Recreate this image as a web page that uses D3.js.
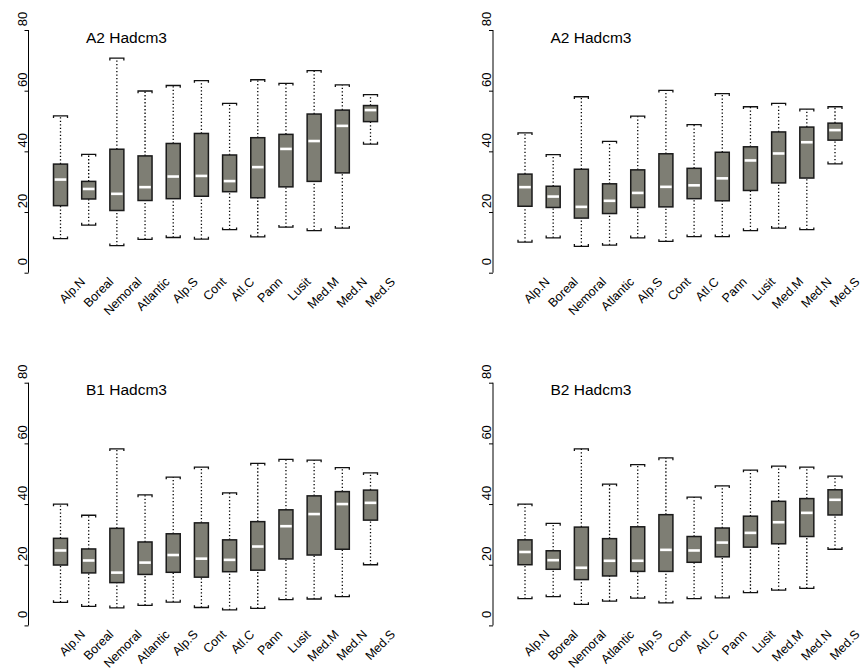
<!DOCTYPE html>
<html>
<head>
<meta charset="utf-8">
<script src="https://cdn.jsdelivr.net/npm/d3@7"></script>
<style>
  html, body { margin: 0; padding: 0; background: #fff; }
  svg { display: block; }
  text { font-family: "Liberation Sans", Arial, sans-serif; fill: #000; }
</style>
</head>
<body>
<svg id="chart" width="864" height="671"></svg>
<script>
// ---- data ----
const categories = ["Alp.N","Boreal","Nemoral","Atlantic","Alp.S","Cont","Atl.C","Pann","Lusit","Med.M","Med.N","Med.S"];
const yTicks = [0, 20, 40, 60, 80];
const panelTitles = ["A2 Hadcm3", "A2 Hadcm3", "B1 Hadcm3", "B2 Hadcm3"];

// each row: [lower whisker, Q1, median, Q3, upper whisker]
const statsA2left = [
  [11.2, 22.1, 30.7, 35.8, 51.7],
  [15.7, 24.3, 27.6, 30.1, 39.0],
  [ 8.9, 20.5, 26.0, 40.7, 70.7],
  [11.0, 23.8, 28.2, 38.5, 59.9],
  [11.6, 24.4, 31.7, 42.6, 61.7],
  [11.1, 25.2, 31.9, 45.9, 63.3],
  [14.2, 26.7, 30.2, 38.8, 55.8],
  [11.8, 24.7, 34.8, 44.5, 63.6],
  [15.0, 28.3, 40.8, 45.6, 62.4],
  [13.9, 30.1, 43.4, 52.3, 66.6],
  [14.7, 32.9, 48.4, 53.6, 61.9],
  [42.4, 49.8, 53.6, 55.1, 58.7]
];
const statsA2right = [
  [10.1, 21.9, 28.2, 32.5, 46.1],
  [11.5, 21.5, 25.1, 28.5, 38.9],
  [ 8.7, 18.0, 21.7, 34.1, 58.0],
  [ 9.1, 19.5, 23.7, 29.3, 43.3],
  [11.5, 21.5, 26.3, 33.9, 51.6],
  [10.3, 21.7, 28.3, 39.2, 60.1],
  [11.9, 24.4, 28.8, 34.4, 48.8],
  [11.9, 23.7, 31.1, 39.7, 59.0],
  [13.9, 27.1, 37.0, 41.5, 54.7],
  [14.7, 29.6, 39.3, 46.4, 55.8],
  [14.2, 31.2, 43.0, 48.0, 53.9],
  [35.9, 43.7, 47.0, 49.3, 54.7]
];
const statsB1 = [
  [ 7.6, 19.9, 24.7, 28.7, 40.0],
  [ 6.3, 17.3, 21.4, 25.2, 36.3],
  [ 5.8, 14.1, 17.4, 32.0, 58.2],
  [ 6.6, 16.8, 20.7, 27.5, 43.0],
  [ 7.7, 17.5, 23.2, 30.2, 48.9],
  [ 5.9, 15.9, 22.0, 33.8, 52.2],
  [ 5.1, 17.7, 21.6, 28.2, 43.7],
  [ 5.6, 18.2, 26.0, 34.2, 53.4],
  [ 8.5, 21.9, 32.7, 38.1, 54.7],
  [ 8.7, 23.2, 36.7, 42.7, 54.5],
  [ 9.5, 25.1, 40.0, 44.1, 52.0],
  [20.0, 34.7, 40.4, 44.6, 50.3]
];
const statsB2 = [
  [ 8.8, 20.0, 24.2, 28.2, 40.0],
  [ 9.5, 18.5, 21.5, 24.6, 33.6],
  [ 6.9, 15.1, 19.0, 32.4, 58.2],
  [ 8.0, 16.3, 21.3, 28.6, 46.6],
  [ 9.0, 17.8, 21.3, 32.5, 53.0],
  [ 7.4, 17.8, 24.9, 36.5, 55.2],
  [ 8.8, 20.8, 24.7, 29.3, 42.3],
  [ 9.1, 22.6, 27.3, 32.1, 46.0],
  [10.8, 25.8, 30.5, 36.0, 51.2],
  [11.6, 26.9, 34.0, 40.9, 52.5],
  [12.2, 29.3, 37.1, 41.8, 52.2],
  [25.1, 36.4, 41.4, 44.7, 49.2]
];

// ---- layout ----
const panels = [
  { stats: statsA2left,  title: panelTitles[0], ax: 28.5, top: 30 },
  { stats: statsA2right, title: panelTitles[1], ax: 493,  top: 30 },
  { stats: statsB1,      title: panelTitles[2], ax: 28.5, top: 382.7 },
  { stats: statsB2,      title: panelTitles[3], ax: 493,  top: 382.7 }
];

const svg = d3.select("#chart");
const boxW = 14;
const fillCol = "rgb(126,126,116)";
const strokeCol = "#1a1a1a";

panels.forEach(p => {
  const g = svg.append("g");
  const x = d3.scaleLinear().domain([0, categories.length - 1]).range([p.ax + 32, p.ax + 342]);
  const y = d3.scaleLinear().domain([0, 80]).range([p.top + 242.7, p.top]);

  // y axis
  const yAxis = d3.axisLeft(y).tickValues(yTicks).tickSize(4).tickSizeOuter(0);
  const ag = g.append("g").attr("transform", `translate(${p.ax},0)`).call(yAxis);
  ag.select(".domain").remove();
  ag.selectAll(".tick line").attr("stroke", "#000").attr("stroke-width", 1);
  ag.append("line")
    .attr("x1", 0).attr("x2", 0)
    .attr("y1", y(0)).attr("y2", y(80))
    .attr("stroke", "#000").attr("stroke-width", 1);
  ag.selectAll(".tick text")
    .attr("x", null).attr("dy", null)
    .attr("transform", "translate(-2,-11.5) rotate(-90)")
    .attr("text-anchor", "middle")
    .attr("font-size", 13)
    .attr("font-family", "Liberation Sans, Arial, sans-serif")
    .attr("fill", "#000");

  // title
  g.append("text")
    .attr("x", p.ax + 57.5)
    .attr("y", p.top + 12.5)
    .attr("font-size", 15.5)
    .text(p.title);

  // boxes
  const bx = g.selectAll("g.box").data(p.stats).join("g").attr("class", "box");
  // whiskers (dotted)
  bx.append("line")
    .attr("x1", (d, i) => x(i)).attr("x2", (d, i) => x(i))
    .attr("y1", d => y(d[0])).attr("y2", d => y(d[1]))
    .attr("stroke", "#000").attr("stroke-width", 1.3).attr("stroke-dasharray", "1.3,2.2");
  bx.append("line")
    .attr("x1", (d, i) => x(i)).attr("x2", (d, i) => x(i))
    .attr("y1", d => y(d[3])).attr("y2", d => y(d[4]))
    .attr("stroke", "#000").attr("stroke-width", 1.3).attr("stroke-dasharray", "1.3,2.2");
  // caps (bracket shaped)
  const capPath = (cx, cy, dir) =>
    `M${cx - boxW / 2},${cy + 2.2 * dir}V${cy}H${cx + boxW / 2}V${cy + 2.2 * dir}`;
  bx.append("path")
    .attr("d", (d, i) => capPath(x(i), y(d[4]), 1))
    .attr("fill", "none").attr("stroke", "#111").attr("stroke-width", 1.3);
  bx.append("path")
    .attr("d", (d, i) => capPath(x(i), y(d[0]), -1))
    .attr("fill", "none").attr("stroke", "#111").attr("stroke-width", 1.3);
  // box
  bx.append("rect")
    .attr("x", (d, i) => x(i) - boxW / 2)
    .attr("width", boxW)
    .attr("y", d => y(d[3]))
    .attr("height", d => y(d[1]) - y(d[3]))
    .attr("fill", fillCol)
    .attr("stroke", strokeCol).attr("stroke-width", 1.5);
  // median
  bx.append("line")
    .attr("x1", (d, i) => x(i) - boxW / 2 + 1.2)
    .attr("x2", (d, i) => x(i) + boxW / 2 - 1.2)
    .attr("y1", d => y(d[2])).attr("y2", d => y(d[2]))
    .attr("stroke", "#fff").attr("stroke-width", 2.6);

  // x labels
  g.selectAll("text.xl").data(categories).join("text")
    .attr("class", "xl")
    .attr("text-anchor", "end")
    .attr("font-size", 12.5)
    .attr("transform", (d, i) => `translate(${x(i) + 25.5},${p.top + 252.5}) rotate(-45)`)
    .text(d => d);
});
</script>
</body>
</html>
